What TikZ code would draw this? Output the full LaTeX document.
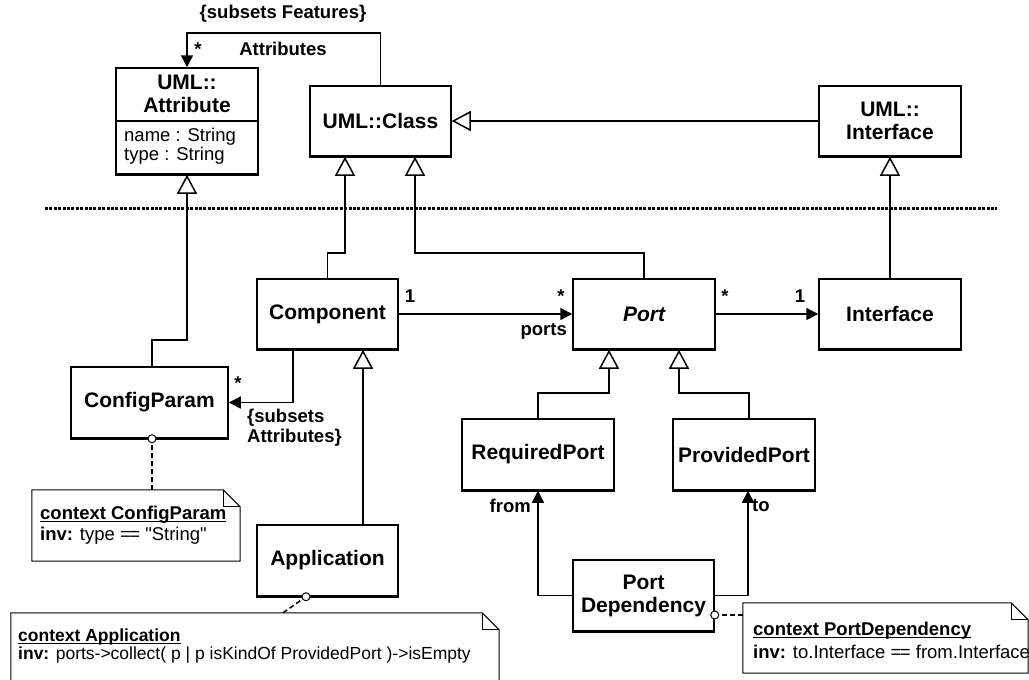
\documentclass[tikz,border=0pt]{standalone}
\usepackage{fontspec}
\setmainfont{Liberation Sans}
\usetikzlibrary{arrows.meta,calc}

% underline set close to the baseline
\newcommand\ctxline[1]{\setbox0\hbox{#1}\rlap{\rule[-2.2pt]{\wd0}{1.1pt}}\box0}
% straight double quote, taken as a glyph so no font mapping curls it
\newcommand\dq{\XeTeXglyph\XeTeXcharglyph"0022\relax}

\begin{document}
\begin{tikzpicture}[x=1pt,y=-1pt,
  cls/.style={draw, line width=1.5pt, fill=white, align=center, inner sep=0pt,
    font=\fontsize{21}{23}\selectfont\bfseries},
  lbl/.style={font=\fontsize{18.5}{19.5}\selectfont\bfseries, inner sep=0pt, align=left},
  txt/.style={font=\fontsize{18.5}{19}\selectfont, inner sep=0pt, align=left},
  gen/.style={line width=1.5pt, line join=miter,
    -{Triangle[length=19pt,width=20pt,fill=white,line width=1.5pt]}},
  assoc/.style={line width=1.5pt, -{Triangle[length=12pt,width=12pt]}},
  edge/.style={line width=2.8pt},
  noteline/.style={line width=1pt, line join=miter},
  notelink/.style={line width=1.5pt, dash pattern=on 5pt off 3pt},
  knob/.style={line width=1pt, fill=white},
  sep/.style={line width=3pt, dash pattern=on 3pt off 1.4pt}
]
\clip (0,0) rectangle (1029,680);

% helper coordinates for bends
\coordinate (topbend) at (0,33);
\coordinate (midbend) at (0,253);
\coordinate (cfgbend) at (0,340);
\coordinate (portbend) at (0,393);

% package separator
\draw[sep] (45,208) -- (997,208);

% classes
\node[cls, minimum width=142pt, minimum height=106pt] (attr) at (187,121) {};
\node[font=\fontsize{21}{23}\selectfont\bfseries, align=center, inner sep=0pt] (attrtitle) at (187,94) {UML::\\Attribute};
\draw[line width=1.5pt] (attr.west) -- (attr.east);
\node[txt, anchor=west] (attrfields) at (124,146.5) {name : String\\type : String};

\node[cls, minimum width=141pt, minimum height=70pt] (cls) at (380.5,121) {UML::Class};
\node[cls, minimum width=142pt, minimum height=70pt] (umlif) at (890,121) {UML::\\Interface};
\node[cls, minimum width=141pt, minimum height=70pt] (comp) at (327.5,314) {Component};
\node[cls, minimum width=142pt, minimum height=70pt] (port) at (644,314) {\itshape Port};
\node[cls, minimum width=142pt, minimum height=70pt] (iface) at (890,314) {Interface};
\node[cls, minimum width=157pt, minimum height=71pt] (cfg) at (149.5,402.5) {ConfigParam};
\node[cls, minimum width=141pt, minimum height=71pt] (app) at (327.5,560.5) {Application};
\node[cls, minimum width=152pt, minimum height=71pt] (req) at (538,454.5) {RequiredPort};
\node[cls, minimum width=142pt, minimum height=71pt] (prov) at (744,454.5) {ProvidedPort};
\node[cls, minimum width=141pt, minimum height=71pt] (pd) at (643.5,595.5) {Port\\Dependency};

% heavier bottom edges of the class boxes
\foreach \n in {attr,cls,umlif,comp,port,iface,cfg,app,req,prov,pd}
  \draw[edge] (\n.south west) -- (\n.south east);

% attachment points
\coordinate (clsL) at ([xshift=-35.5pt]cls.south);
\coordinate (clsR) at ([xshift=34.5pt]cls.south);
\coordinate (portL) at ([xshift=-35pt]port.south);
\coordinate (portR) at ([xshift=35pt]port.south);
\coordinate (cfgtop) at ([xshift=2.5pt]cfg.north);
\coordinate (compdown) at ([xshift=-34.5pt]comp.south);
\coordinate (appup) at ([xshift=35.5pt]app.north);
\coordinate (compup) at ([xshift=35.5pt]comp.south);
\coordinate (provup) at ([xshift=5pt]prov.north);
\coordinate (provdown) at ([xshift=4pt]prov.south);

% generalizations
\draw[gen] (umlif.west) -- (cls.east);
\draw[gen] (iface.north) -- (umlif.south);
\draw[gen] (comp.north) -- (comp.north |- midbend) -| (clsL);
\draw[gen] (port.north) -- (port.north |- midbend) -| (clsR);
\draw[gen] (cfgtop) -- (cfgtop |- cfgbend) -| (attr.south);
\draw[gen] (appup) -- (compup);
\draw[gen] (req.north) -- (req.north |- portbend) -| (portL);
\draw[gen] (provup) -- (provup |- portbend) -| (portR);

% associations
\draw[assoc] (cls.north) -- (cls.north |- topbend) -| (attr.north);
\draw[assoc] (comp.east) -- (port.west);
\draw[assoc] (port.east) -- (iface.west);
\draw[assoc] (compdown) |- (cfg.east);
\draw[assoc] (pd.west) -| (req.south);
\draw[assoc] (pd.east) -| (provdown);

% association labels
\node[lbl] (subfeat) at (283,14) {\{subsets Features\}};
\node[lbl] (attrsname) at (283,49) {Attributes};
\node[lbl] (attrmult) at (198,49) {*};
\node[lbl] (compone) at (410,296) {1};
\node[lbl] (portmult) at (561,296) {*};
\node[lbl, anchor=east] (portsname) at (567,331) {ports};
\node[lbl] (portmult2) at (725,296) {*};
\node[lbl] (ifaceone) at (800,296) {1};
\node[lbl] (cfgmult) at (238,383) {*};
\node[lbl, anchor=west] (subattr) at (247,427.5) {\{subsets\\Attributes\}};
\node[lbl, anchor=east] (fromlbl) at (531,506) {from};
\node[lbl, anchor=west] (tolbl) at (752,506) {to};

% OCL notes
\node[minimum width=208pt, minimum height=71pt, inner sep=0pt] (cfgnote) at (136,525.5) {};
\draw[noteline] (cfgnote.south west) -- (cfgnote.north west) -- ([xshift=-17pt]cfgnote.north east)
  -- ([yshift=-17pt]cfgnote.north east) -- (cfgnote.south east) -- cycle;
\draw[noteline] ([xshift=-17pt]cfgnote.north east) |- ([yshift=-17pt]cfgnote.north east);
\node[lbl, anchor=west] (cfgctx) at (40,515) {\ctxline{context ConfigParam}};
\node[txt, anchor=west] (cfginv) at (40,536) {\textbf{inv:} type =\kern-1.5pt= \dq String\dq};

\node[minimum width=488pt, minimum height=100pt, inner sep=0pt] (appnote) at (255,663) {};
\draw[noteline] (appnote.south west) -- (appnote.north west) -- ([xshift=-17pt]appnote.north east)
  -- ([yshift=-17pt]appnote.north east) -- (appnote.south east) -- cycle;
\draw[noteline] ([xshift=-17pt]appnote.north east) |- ([yshift=-17pt]appnote.north east);
\node[lbl, anchor=west, font=\fontsize{17.5}{18}\selectfont\bfseries] (appctx) at (18,637) {\ctxline{context Application}};
\node[txt, anchor=west, font=\fontsize{17.5}{18}\selectfont] (appinv) at (18,655) {\textbf{inv:} ports->collect( p | p isKindOf ProvidedPort )->isEmpty};

\node[minimum width=285pt, minimum height=70pt, inner sep=0pt] (pdnote) at (885.5,638) {};
\draw[noteline] (pdnote.south west) -- (pdnote.north west) -- ([xshift=-17pt]pdnote.north east)
  -- ([yshift=-17pt]pdnote.north east) -- (pdnote.south east) -- cycle;
\draw[noteline] ([xshift=-17pt]pdnote.north east) |- ([yshift=-17pt]pdnote.north east);
\node[lbl, anchor=west] (pdctx) at (753,631) {\ctxline{context PortDependency}};
\node[txt, anchor=west] (pdinv) at (753,652) {\textbf{inv:} to.Interface =\kern-1.5pt= from.Interface};

% note anchors
\coordinate (cfgknob) at ([xshift=2.5pt]cfg.south);
\coordinate (appknob) at ([xshift=-21.5pt]app.south);
\coordinate (pdknob) at ([yshift=-19.5pt]pd.east);
\draw[notelink] (cfgnote.north -| cfgknob) -- (cfgknob);
\draw[notelink] ([xshift=28pt]appnote.north) -- (appknob);
\draw[notelink] (pdnote.west |- pdknob) -- (pdknob);
\draw[knob] (cfgknob) circle (4pt);
\draw[knob] (appknob) circle (4pt);
\draw[knob] (pdknob) circle (4pt);
\end{tikzpicture}
\end{document}
